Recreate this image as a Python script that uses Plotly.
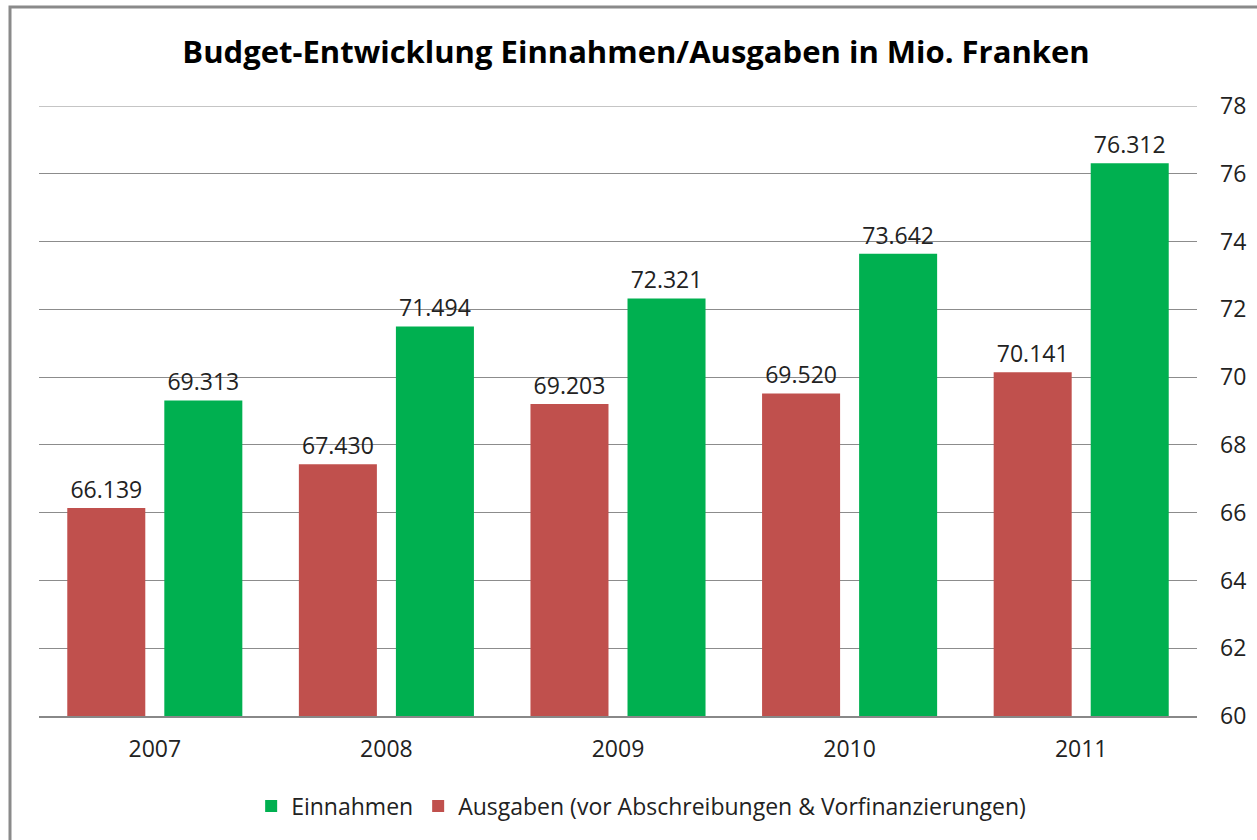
import plotly.graph_objects as go

years = ["2007", "2008", "2009", "2010", "2011"]
ausgaben = [66.139, 67.430, 69.203, 69.520, 70.141]
einnahmen = [69.313, 71.494, 72.321, 73.642, 76.312]
y_ticks = [60, 62, 64, 66, 68, 70, 72, 74, 76, 78]

FONT = "Open Sans"
FS = 23

fig = go.Figure()
fig.add_trace(go.Bar(
    x=years, y=ausgaben, name="Ausgaben (vor Abschreibungen & Vorfinanzierungen)",
    marker=dict(color="#C0504D", line=dict(width=0)),
    text=[f"{v:.3f}" for v in ausgaben], textposition="outside",
    textfont=dict(size=FS, color="#222", family=FONT), cliponaxis=False,
))
fig.add_trace(go.Bar(
    x=years, y=einnahmen, name="Einnahmen",
    marker=dict(color="#00B050", line=dict(width=0)),
    text=[f"{v:.3f}" for v in einnahmen], textposition="outside",
    textfont=dict(size=FS, color="#222", family=FONT), cliponaxis=False,
))

L, R, T, B = 39, 60, 106, 124
W, H = 1257, 840
pw, ph = W - L - R, H - T - B

def px_x(p):
    return (p - L) / pw

def px_y(p):
    return (H - B - p) / ph

fig.update_layout(
    width=W, height=H,
    margin=dict(l=L, r=R, t=T, b=B),
    paper_bgcolor="white", plot_bgcolor="white",
    barmode="group", bargap=0.162, bargroupgap=0.196,
    title=dict(text="<b>Budget-Entwicklung Einnahmen/Ausgaben in Mio. Franken</b>",
               x=0.506, xanchor="center", y=1 - 52 / H, yanchor="middle",
               font=dict(size=31, color="black", family=FONT)),
    font=dict(family=FONT, color="#222"),
    xaxis=dict(showline=True, linecolor="#888", linewidth=1.5, ticks="",
               tickfont=dict(size=FS, color="#222"), showgrid=False,
               ticklabelstandoff=12),
    yaxis=dict(side="right", range=[60, 78], tickvals=y_ticks,
               showgrid=True, gridcolor="#8c8c8c", gridwidth=1,
               ticks="", showline=False, zeroline=False,
               tickfont=dict(size=FS, color="#222"), ticklabelstandoff=22),
    showlegend=True,
    legend=dict(orientation="h", x=0.52, xanchor="center", y=px_y(806), yanchor="middle",
                traceorder="reversed", font=dict(size=FS, color="#222")),
    shapes=[
        dict(type="rect", xref="paper", yref="paper",
             x0=px_x(10), x1=px_x(1262), y0=px_y(845), y1=px_y(7),
             line=dict(color="#8a8a8a", width=3), layer="below"),
        # top gridline (plotly omits the gridline on the range edge)
        dict(type="line", xref="paper", yref="y", x0=0, x1=1,
             y0=y_ticks[-1], y1=y_ticks[-1],
             line=dict(color="#8c8c8c", width=1), layer="below"),
    ],
)

fig.write_html("out.html", config={"displayModeBar": False},
               post_script="document.body.style.margin='0';")
